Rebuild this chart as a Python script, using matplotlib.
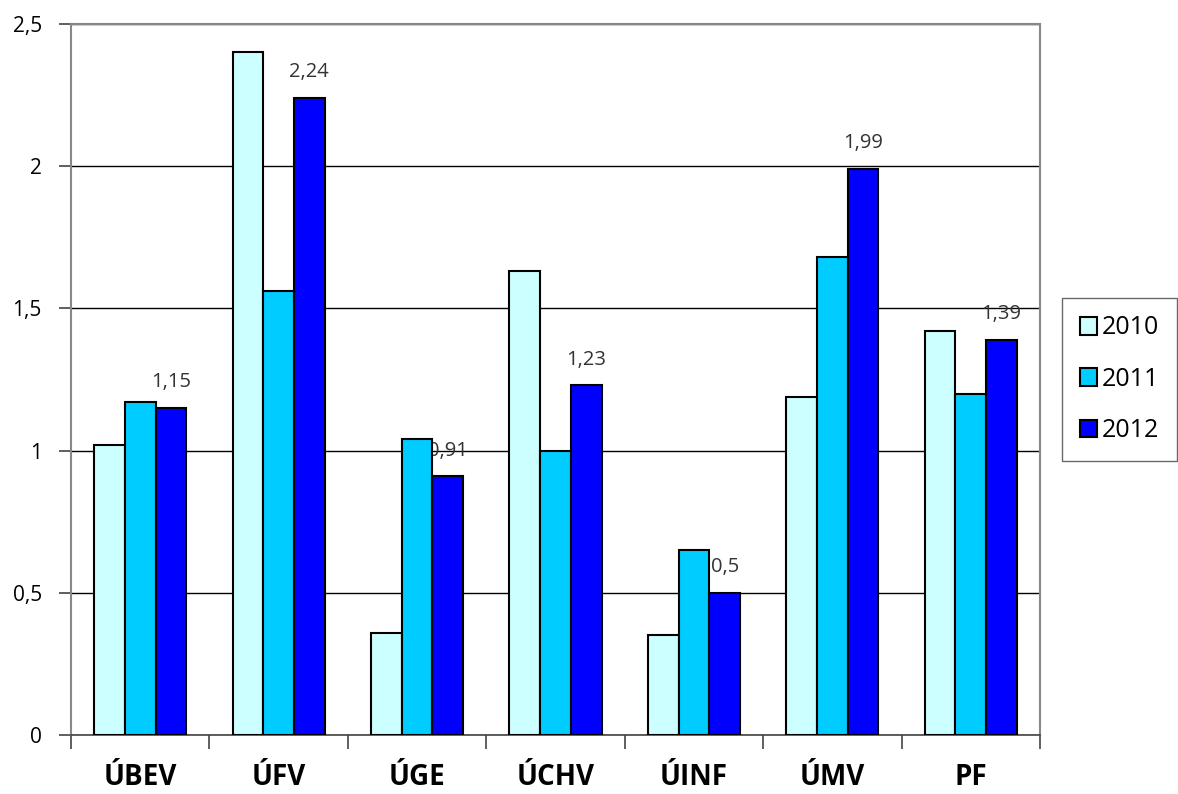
import numpy as np
import matplotlib.pyplot as plt
from matplotlib.ticker import FuncFormatter

# data
categories = ["ÚBEV", "ÚFV", "ÚGE", "ÚCHV", "ÚINF", "ÚMV", "PF"]
years = ["2010", "2011", "2012"]
v2010 = [1.02, 2.40, 0.36, 1.63, 0.35, 1.19, 1.42]
v2011 = [1.17, 1.56, 1.04, 1.00, 0.65, 1.68, 1.20]
v2012 = [1.15, 2.24, 0.91, 1.23, 0.50, 1.99, 1.39]
colors = ["#CCFFFF", "#00CCFF", "#0000FF"]

plt.rcParams["font.family"] = ["Open Sans", "DejaVu Sans"]

fig = plt.figure(figsize=(11.78, 7.94), dpi=100)
ax = fig.add_axes([71 / 1178, 1 - 735 / 794, (1040 - 71) / 1178, (735 - 24) / 794])

x = np.arange(len(categories))
w = 0.222
series = [v2010, v2011, v2012]
for i, (vals, c, yr) in enumerate(zip(series, colors, years)):
    ax.bar(x + (i - 1) * w, vals, w, color=c, edgecolor="black", linewidth=1.5,
           label=yr, zorder=3)

# labels for the last year, drawn behind the bars like the original
for xi, v in zip(x, v2012):
    ax.text(xi + w, v + 0.055, f"{v:g}".replace(".", ","), ha="center", va="bottom",
            fontsize=14.5, color="#333333", zorder=2)

ax.set_xlim(-0.5, len(categories) - 0.5)
ax.set_ylim(0, 2.5)
ax.set_yticks(np.arange(0, 2.51, 0.5))
ax.yaxis.set_major_formatter(FuncFormatter(lambda v, p: f"{v:g}".replace(".", ",")))
ax.grid(axis="y", color="black", linewidth=1, zorder=1)

ax.set_xticks(x)
ax.set_xticklabels(categories, fontsize=20, fontweight="bold")
ax.set_xticks(np.arange(-0.5, len(categories), 1), minor=True)
ax.tick_params(axis="x", which="major", length=0, pad=20)
ax.tick_params(axis="x", which="minor", length=10, width=1.2, color="#444444")
ax.tick_params(axis="y", length=9, width=1.2, color="#444444", labelsize=15, pad=12)

for s in ["left", "top", "right"]:
    ax.spines[s].set_color("#888888")
    ax.spines[s].set_linewidth(1.5)
ax.spines["bottom"].set_color("#444444")
ax.spines["bottom"].set_linewidth(1.2)

leg = ax.legend(loc="upper left", bbox_to_anchor=(1062 / 1178, 1 - 298 / 794),
                bbox_transform=fig.transFigure, fontsize=18, frameon=True,
                fancybox=False, edgecolor="#444444", handlelength=0.7,
                handleheight=0.7, handletextpad=0.2, labelspacing=1.05,
                borderpad=0.7, borderaxespad=0)
leg.get_frame().set_linewidth(1.0)

fig.savefig("out.png", dpi=100)
